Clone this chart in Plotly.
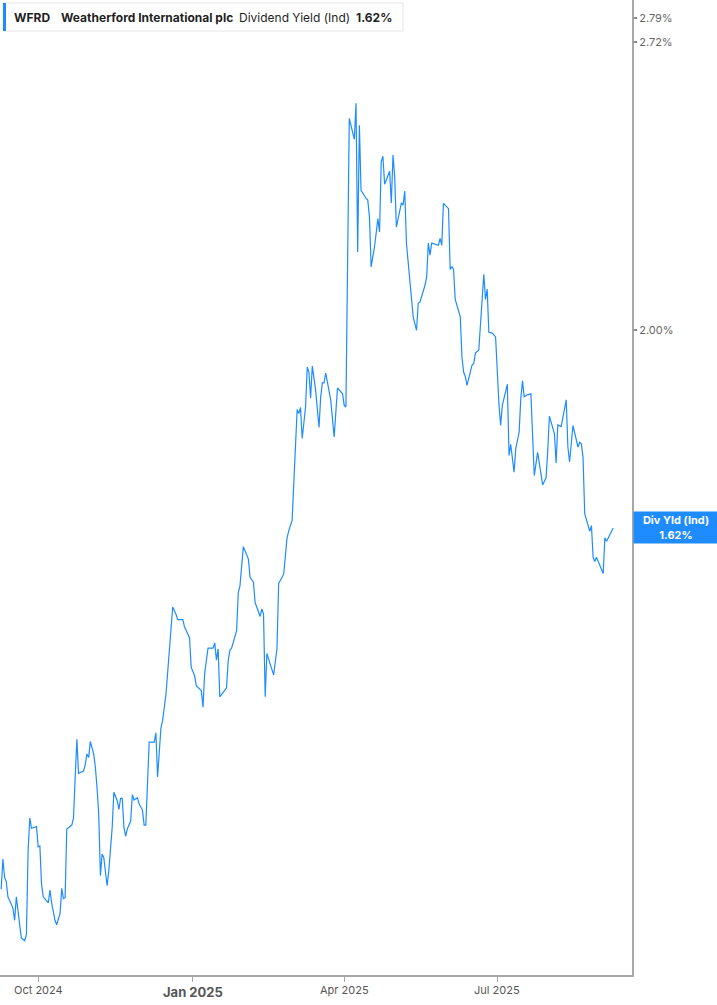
from __future__ import annotations

import numpy as np
import plotly.graph_objects as go


LINE_BLUE = "#1E8CFF"
AXIS_GREY = "#A8A8A8"
TEXT_GREY = "#5F5F5F"
FONT = "Inter, Roboto, Arial, sans-serif"

TICKER = "WFRD"
COMPANY = "Weatherford International plc"
METRIC = "Dividend Yield (Ind)"
END_LABEL = "Div Yld (Ind)"

DATES = [
    "2024-09-09", "2024-09-10", "2024-09-11", "2024-09-12", "2024-09-13", "2024-09-16",
    "2024-09-17", "2024-09-18", "2024-09-20", "2024-09-21", "2024-09-23", "2024-09-24",
    "2024-09-25", "2024-09-26", "2024-09-27", "2024-09-29", "2024-09-30", "2024-10-01",
    "2024-10-02", "2024-10-03", "2024-10-04", "2024-10-07", "2024-10-08", "2024-10-09",
    "2024-10-11", "2024-10-12", "2024-10-13", "2024-10-14", "2024-10-15", "2024-10-16",
    "2024-10-17", "2024-10-18", "2024-10-21", "2024-10-22", "2024-10-23", "2024-10-24",
    "2024-10-25", "2024-10-28", "2024-10-29", "2024-10-30", "2024-10-31", "2024-11-01",
    "2024-11-03", "2024-11-04", "2024-11-05", "2024-11-06", "2024-11-07", "2024-11-08",
    "2024-11-09", "2024-11-10", "2024-11-11", "2024-11-12", "2024-11-14", "2024-11-15",
    "2024-11-17", "2024-11-18", "2024-11-19", "2024-11-20", "2024-11-21", "2024-11-22",
    "2024-11-23", "2024-11-25", "2024-11-26", "2024-11-27", "2024-11-29", "2024-11-30",
    "2024-12-02", "2024-12-03", "2024-12-04", "2024-12-06", "2024-12-07", "2024-12-09",
    "2024-12-10", "2024-12-11", "2024-12-13", "2024-12-14", "2024-12-16", "2024-12-18",
    "2024-12-20", "2024-12-22", "2024-12-23", "2024-12-26", "2024-12-27", "2024-12-30",
    "2024-12-31", "2025-01-02", "2025-01-03", "2025-01-06", "2025-01-07", "2025-01-08",
    "2025-01-10", "2025-01-13", "2025-01-14", "2025-01-15", "2025-01-16", "2025-01-17",
    "2025-01-21", "2025-01-22", "2025-01-23", "2025-01-24", "2025-01-27", "2025-01-28",
    "2025-01-29", "2025-01-31", "2025-02-03", "2025-02-04", "2025-02-06", "2025-02-07",
    "2025-02-10", "2025-02-11", "2025-02-12", "2025-02-13", "2025-02-14", "2025-02-18",
    "2025-02-20", "2025-02-21", "2025-02-24", "2025-02-26", "2025-02-27", "2025-03-01",
    "2025-03-03", "2025-03-04", "2025-03-05", "2025-03-06", "2025-03-07", "2025-03-09",
    "2025-03-10", "2025-03-11", "2025-03-12", "2025-03-13", "2025-03-15", "2025-03-17",
    "2025-03-18", "2025-03-19", "2025-03-20", "2025-03-21", "2025-03-24", "2025-03-26",
    "2025-03-28", "2025-03-31", "2025-04-01", "2025-04-02", "2025-04-04", "2025-04-07",
    "2025-04-08", "2025-04-09", "2025-04-10", "2025-04-11", "2025-04-14", "2025-04-15",
    "2025-04-16", "2025-04-17", "2025-04-19", "2025-04-21", "2025-04-22", "2025-04-23",
    "2025-04-24", "2025-04-25", "2025-04-28", "2025-04-29", "2025-04-30", "2025-05-01",
    "2025-05-02", "2025-05-05", "2025-05-06", "2025-05-07", "2025-05-08", "2025-05-09",
    "2025-05-12", "2025-05-14", "2025-05-15", "2025-05-16", "2025-05-17", "2025-05-19",
    "2025-05-20", "2025-05-21", "2025-05-22", "2025-05-23", "2025-05-27", "2025-05-28",
    "2025-05-29", "2025-05-30", "2025-06-02", "2025-06-03", "2025-06-04", "2025-06-05",
    "2025-06-06", "2025-06-09", "2025-06-10", "2025-06-11", "2025-06-12", "2025-06-13",
    "2025-06-16", "2025-06-17", "2025-06-18", "2025-06-20", "2025-06-23", "2025-06-24",
    "2025-06-25", "2025-06-26", "2025-06-28", "2025-06-30", "2025-07-02", "2025-07-03",
    "2025-07-04", "2025-07-07", "2025-07-08", "2025-07-09", "2025-07-11", "2025-07-12",
    "2025-07-14", "2025-07-15", "2025-07-16", "2025-07-17", "2025-07-19", "2025-07-21",
    "2025-07-23", "2025-07-25", "2025-07-28", "2025-07-30", "2025-07-31", "2025-08-01",
    "2025-08-04", "2025-08-05", "2025-08-06", "2025-08-08", "2025-08-11", "2025-08-12",
    "2025-08-13", "2025-08-15", "2025-08-18", "2025-08-19", "2025-08-20", "2025-08-21",
    "2025-08-22", "2025-08-25", "2025-08-26", "2025-08-27", "2025-08-28", "2025-08-29",
    "2025-09-02", "2025-09-03", "2025-09-04", "2025-09-08",
]

# dividend yield, percent
YIELD_PCT = [
    1.102, 1.138, 1.116, 1.111, 1.093, 1.080,
    1.066, 1.093, 1.061, 1.046, 1.043, 1.050,
    1.148, 1.189, 1.176, 1.178, 1.178, 1.153,
    1.154, 1.108, 1.093, 1.086, 1.101, 1.086,
    1.066, 1.061, 1.068, 1.074, 1.103, 1.091,
    1.092, 1.175, 1.180, 1.189, 1.241, 1.293,
    1.247, 1.250, 1.259, 1.273, 1.268, 1.290,
    1.273, 1.255, 1.228, 1.194, 1.118, 1.144,
    1.140, 1.124, 1.106, 1.124, 1.177, 1.222,
    1.211, 1.200, 1.214, 1.214, 1.177, 1.166,
    1.175, 1.185, 1.219, 1.212, 1.215, 1.207,
    1.199, 1.180, 1.180, 1.289, 1.289, 1.289,
    1.302, 1.242, 1.309, 1.319, 1.357, 1.416,
    1.489, 1.477, 1.469, 1.469, 1.458, 1.441,
    1.396, 1.384, 1.369, 1.362, 1.338, 1.387,
    1.425, 1.425, 1.433, 1.407, 1.424, 1.353,
    1.366, 1.406, 1.422, 1.425, 1.452, 1.512,
    1.523, 1.588, 1.567, 1.537, 1.529, 1.496,
    1.474, 1.486, 1.478, 1.353, 1.417, 1.385,
    1.424, 1.527, 1.542, 1.603, 1.615, 1.633,
    1.780, 1.838, 1.830, 1.842, 1.782, 1.843,
    1.923, 1.913, 1.861, 1.925, 1.876, 1.803,
    1.863, 1.891, 1.891, 1.911, 1.856, 1.785,
    1.881, 1.869, 1.846, 1.843, 2.507, 2.452,
    2.548, 2.174, 2.489, 2.322, 2.302, 2.298,
    2.257, 2.140, 2.186, 2.253, 2.221, 2.394,
    2.408, 2.337, 2.370, 2.291, 2.411, 2.356,
    2.233, 2.291, 2.286, 2.320, 2.194, 2.148,
    2.029, 2.000, 2.059, 2.061, 2.072, 2.098,
    2.116, 2.195, 2.167, 2.195, 2.190, 2.206,
    2.190, 2.290, 2.277, 2.134, 2.141, 2.134,
    2.067, 2.029, 1.944, 1.913, 1.904, 1.886,
    1.927, 1.930, 1.952, 1.958, 2.123, 2.067,
    2.090, 1.996, 1.994, 1.986, 1.849, 1.807,
    1.846, 1.888, 1.750, 1.771, 1.719, 1.763,
    1.794, 1.859, 1.895, 1.863, 1.867, 1.869,
    1.713, 1.756, 1.696, 1.709, 1.758, 1.825,
    1.791, 1.736, 1.808, 1.805, 1.857, 1.766,
    1.738, 1.807, 1.766, 1.775, 1.772, 1.747,
    1.645, 1.614, 1.624, 1.570, 1.563, 1.570,
    1.543, 1.603, 1.597, 1.620,
]

Y_TICKS = [2.00, 2.72, 2.79]
X_TICKS = ["2024-10-01", "2025-01-01", "2025-04-01", "2025-07-01"]
X_TICK_LABELS = ["Oct 2024", "Jan 2025", "Apr 2025", "Jul 2025"]
X_RANGE = ["2024-09-08 07:00", "2025-09-19 03:00"]
Y_RANGE = [1.0056, 2.8447]

WIDTH, HEIGHT = 717, 1005
MARGIN = dict(l=0, r=85, t=0, b=30)


def px_x(px: float) -> float:
    return px / (WIDTH - MARGIN["l"] - MARGIN["r"])


def px_y(py: float) -> float:
    return 1 - py / (HEIGHT - MARGIN["t"] - MARGIN["b"])


def add_header(fig: go.Figure) -> None:
    last = YIELD_PCT[-1]
    fig.add_shape(
        type="rect", xref="paper", yref="paper",
        x0=px_x(3), x1=px_x(403), y0=px_y(31), y1=px_y(3),
        line=dict(color="#E4E6EA", width=1), fillcolor="white", layer="above",
    )
    fig.add_shape(
        type="rect", xref="paper", yref="paper",
        x0=px_x(3), x1=px_x(6), y0=px_y(31), y1=px_y(3),
        line=dict(width=0), fillcolor=LINE_BLUE, layer="above",
    )
    parts = [
        (12, f"<b>{TICKER}</b>"),
        (59, f"<b>{COMPANY}</b>"),
        (237, METRIC),
        (354, f"<b>{last:.2f}%</b>"),
    ]
    for left, text in parts:
        fig.add_annotation(
            x=px_x(left), y=px_y(17), xref="paper", yref="paper",
            xanchor="left", yanchor="middle", text=text, showarrow=False,
            font=dict(family=FONT, size=12, color="#1F1F1F"),
        )


def add_end_label(fig: go.Figure) -> None:
    last = YIELD_PCT[-1]
    fig.add_annotation(
        x=1, xref="paper", y=np.log10(last), yref="y",
        xanchor="left", yanchor="middle", xshift=1,
        text=f"<b>{END_LABEL}</b><br><b>{last:.2f}%</b>",
        showarrow=False, align="center",
        bgcolor=LINE_BLUE, width=78, height=25, borderpad=3,
        font=dict(family=FONT, size=11, color="white"),
    )


def add_x_labels(fig: go.Figure) -> None:
    for date, label in zip(X_TICKS, X_TICK_LABELS):
        is_year = label.startswith("Jan")
        fig.add_annotation(
            x=date, xref="x", y=px_y(992 if is_year else 990), yref="paper",
            xanchor="center", yanchor="middle", showarrow=False,
            text=f"<b>{label}</b>" if is_year else label,
            font=dict(family=FONT, size=13 if is_year else 11, color="#555555"),
        )


def main() -> None:
    fig = go.Figure()
    fig.add_trace(
        go.Scatter(
            x=DATES,
            y=YIELD_PCT,
            mode="lines",
            line=dict(color=LINE_BLUE, width=1.2),
            hovertemplate="%{x|%b %d, %Y}<br>%{y:.2f}%<extra></extra>",
            showlegend=False,
        )
    )

    fig.update_layout(
        width=WIDTH,
        height=HEIGHT,
        margin=MARGIN,
        paper_bgcolor="white",
        plot_bgcolor="white",
        font=dict(family=FONT, color=TEXT_GREY),
        xaxis=dict(
            type="date",
            range=X_RANGE,
            tickvals=X_TICKS,
            showticklabels=False,
            ticks="outside",
            ticklen=5,
            tickcolor=AXIS_GREY,
            showgrid=False,
            zeroline=False,
            showline=True,
            linecolor=AXIS_GREY,
            linewidth=2,
            automargin=False,
        ),
        yaxis=dict(
            type="log",
            side="right",
            range=list(np.log10(Y_RANGE)),
            tickvals=Y_TICKS,
            ticktext=[f"{v:.2f}%" for v in Y_TICKS],
            ticks="outside",
            ticklen=3,
            tickwidth=2,
            tickcolor="#8A8A8A",
            tickfont=dict(family=FONT, size=11, color="#666666"),
            showgrid=False,
            zeroline=False,
            showline=True,
            linecolor=AXIS_GREY,
            linewidth=2,
            automargin=False,
        ),
    )

    add_header(fig)
    add_end_label(fig)
    add_x_labels(fig)

    # the page's default body margin would push the 717x1005 figure off the window
    fig.write_html(
        "out.html",
        config={"displayModeBar": False},
        post_script="document.body.style.margin = '0';",
    )


if __name__ == "__main__":
    main()
